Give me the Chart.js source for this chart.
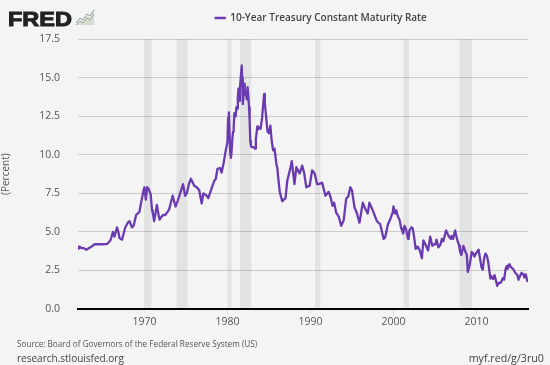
<!DOCTYPE html>
<html>
<head>
<meta charset="utf-8">
<title>10-Year Treasury Constant Maturity Rate</title>
<script src="https://cdn.jsdelivr.net/npm/chart.js@4"></script>
<style>
    html, body { margin: 0; padding: 0; background: #f4f4f4; }
    #wrap { position: relative; width: 550px; height: 365px; overflow: hidden; font-family: "Open Sans", sans-serif; }
    #chart { position: absolute; left: 0; top: 0; }
    .note { position: absolute; white-space: nowrap; line-height: 1; }
    #logo { left: 8px; top: 7px; font: 900 21px "Liberation Sans", sans-serif; color: #222; -webkit-text-stroke: 1px #222; transform: scaleX(1.12); transform-origin: left top; }
    #icon { position: absolute; left: 76px; top: 9px; }
    #source { left: 17px; top: 339.5px; font-size: 8.2px; color: #555; }
    #site { left: 17px; top: 352.5px; font-size: 10px; color: #444; }
    #short { right: 6px; top: 352.5px; font-size: 10.7px; color: #444; }
</style>
</head>
<body>
<div id="wrap">
    <canvas id="chart" width="550" height="365"></canvas>
    <div class="note" id="logo">FRED</div>
    <svg id="icon" width="19" height="17" viewBox="0 0 19 17">
        <path d="M0 16 L4 11 L7 13 L11 7 L14 9 L18 1 L18 16 Z" fill="#d4dcd4"/>
        <path d="M0 14 L4 9 L7 11 L11 5 L14 7 L18 1" fill="none" stroke="#8a9c94" stroke-width="1"/>
        <path d="M0 16 L4 12 L7 14 L11 9 L14 11 L18 5" fill="none" stroke="#9db08c" stroke-width="1"/>
    </svg>
    <div class="note" id="source">Source: Board of Governors of the Federal Reserve System (US)</div>
    <div class="note" id="site">research.stlouisfed.org</div>
    <div class="note" id="short">myf.red/g/3ru0</div>
</div>
<script>
const seriesName = "10-Year Treasury Constant Maturity Rate";
const yAxisTitle = "(Percent)";
const yTicks = [0, 2.5, 5, 7.5, 10, 12.5, 15, 17.5];
const xTicks = [1970, 1980, 1990, 2000, 2010];
const recessionStarts = [1969.95, 1973.87, 1980.0, 1981.5, 1990.55, 2001.2, 2007.95];
const recessionEnds = [1970.87, 1975.2, 1980.5, 1982.87, 1991.2, 2001.87, 2009.45];

const years = [
    1962.0, 1962.1, 1962.2, 1962.4, 1962.7, 1963.0, 1963.5, 1964.0, 1964.5, 1965.0, 1965.5, 1965.9,
    1966.0, 1966.2, 1966.4, 1966.7, 1966.9, 1967.0, 1967.3, 1967.7, 1968.0, 1968.2, 1968.5, 1968.7, 1969.0, 1969.4, 1969.6, 1969.9,
    1970.0, 1970.17, 1970.33, 1970.5, 1970.75, 1970.92, 1971.0, 1971.17, 1971.5, 1971.75, 1971.83,
    1972.0, 1972.25, 1972.5, 1972.92, 1973.0, 1973.4, 1973.75, 1974.0, 1974.3, 1974.65, 1974.9,
    1975.1, 1975.35, 1975.6, 1976.0, 1976.3, 1976.6, 1976.9, 1977.1, 1977.5, 1977.7,
    1978.07, 1978.4, 1978.6, 1978.8, 1979.1, 1979.3, 1979.55, 1979.8,
    1980.0, 1980.08, 1980.17, 1980.25, 1980.33, 1980.42, 1980.5, 1980.6, 1980.67, 1980.75, 1980.83, 1980.92,
    1981.0, 1981.08, 1981.17, 1981.25, 1981.33, 1981.42, 1981.5, 1981.6, 1981.72, 1981.78, 1981.85, 1981.92,
    1982.0, 1982.08, 1982.17, 1982.25, 1982.33, 1982.42, 1982.5, 1982.6, 1982.67, 1982.75, 1982.83, 1982.92,
    1983.0, 1983.17, 1983.33, 1983.42, 1983.6, 1983.67, 1983.92, 1984.0, 1984.17, 1984.33, 1984.42, 1984.5, 1984.67, 1984.83, 1984.92,
    1985.0, 1985.17, 1985.33, 1985.5, 1985.67, 1985.92, 1986.0, 1986.1, 1986.3, 1986.6, 1987.0, 1987.2,
    1987.6, 1987.75, 1988.07, 1988.3, 1988.7, 1989.0, 1989.25, 1989.5, 1989.9, 1990.2, 1990.5, 1990.8,
    1991.0, 1991.4, 1991.8, 1992.2, 1992.45, 1992.65, 1992.85, 1993.1, 1993.4, 1993.7, 1994.0, 1994.3, 1994.55, 1994.8,
    1995.0, 1995.3, 1995.6, 1995.9, 1996.3, 1996.6, 1996.9, 1997.1, 1997.5, 1998.0, 1998.4, 1998.7, 1998.8, 1999.0,
    1999.33, 1999.6, 1999.92, 2000.0, 2000.17, 2000.33, 2000.5, 2000.75, 2000.92,
    2001.0, 2001.17, 2001.33, 2001.5, 2001.75, 2001.83, 2001.92, 2002.17, 2002.33, 2002.5, 2002.67, 2002.92,
    2003.17, 2003.42, 2003.6, 2003.75, 2004.17, 2004.42, 2004.67, 2004.92, 2005.08, 2005.17, 2005.42, 2005.67, 2005.83,
    2006.0, 2006.33, 2006.42, 2006.67, 2006.92, 2007.0, 2007.17, 2007.42, 2007.67, 2007.92,
    2008.0, 2008.17, 2008.42, 2008.67, 2008.83, 2008.95, 2009.0, 2009.17, 2009.42, 2009.6, 2009.75, 2009.92,
    2010.25, 2010.6, 2010.75, 2010.92, 2011.08, 2011.25, 2011.42, 2011.67, 2011.75, 2011.92,
    2012.0, 2012.17, 2012.5, 2012.67, 2012.92, 2013.17, 2013.33, 2013.5, 2013.67, 2013.75, 2013.92,
    2014.0, 2014.17, 2014.42, 2014.6, 2014.75, 2014.92, 2015.05, 2015.17, 2015.42, 2015.67, 2015.75, 2015.83, 2015.92,
    2016.0, 2016.15
];
const rates = [
    4.05, 3.92, 4.05, 3.95, 3.95, 3.85, 4.0, 4.2, 4.2, 4.2, 4.22, 4.45,
    4.6, 5.0, 4.7, 5.3, 4.9, 4.6, 4.5, 5.3, 5.6, 5.7, 5.3, 5.4, 6.1, 6.3, 6.9, 7.7,
    7.9, 7.1, 7.9, 7.8, 7.45, 6.4, 6.25, 5.7, 6.75, 5.95, 5.8,
    5.95, 6.1, 6.1, 6.4, 6.5, 7.35, 6.65, 7.0, 7.5, 8.1, 7.35,
    7.5, 8.1, 8.45, 8.0, 7.9, 7.7, 6.85, 7.5, 7.35, 7.2,
    7.8, 8.3, 8.45, 9.1, 9.15, 8.85, 9.5, 10.3,
    10.8, 12.4, 12.75, 11.5, 10.2, 9.8, 10.25, 11.1, 11.5, 11.75, 12.7, 12.5,
    12.6, 13.1, 13.0, 13.7, 14.3, 13.5, 14.3, 15.0, 15.8, 15.0, 13.3, 13.7,
    14.6, 14.3, 13.9, 13.9, 13.6, 14.4, 13.95, 13.1, 12.3, 10.9, 10.6, 10.5,
    10.5, 10.5, 10.4, 11.0, 11.85, 11.65, 11.8, 11.7, 12.4, 13.4, 13.95, 13.4, 12.4, 11.5, 11.5,
    11.4, 11.9, 10.9, 10.3, 10.4, 9.3, 9.2, 8.6, 7.6, 7.0, 7.2, 8.3,
    9.2, 9.6, 8.1, 9.2, 8.8, 9.3, 8.8, 7.9, 8.0, 9.0, 8.8, 8.1,
    8.1, 8.2, 7.35, 7.6, 7.2, 6.7, 6.9, 6.25, 6.0, 5.4, 5.75, 7.15, 7.3, 7.9,
    7.7, 6.6, 6.2, 5.6, 6.9, 6.5, 6.2, 6.9, 6.4, 5.7, 5.5, 4.8, 4.55, 4.65,
    5.5, 5.8, 6.3, 6.66, 6.2, 6.4, 6.05, 5.75, 5.25,
    5.15, 4.9, 5.4, 5.2, 4.55, 4.6, 5.1, 5.3, 5.2, 4.6, 3.9, 4.05,
    3.8, 3.3, 4.45, 4.3, 3.8, 4.7, 4.1, 4.2, 4.2, 4.5, 4.0, 4.2, 4.55,
    4.4, 5.1, 5.1, 4.7, 4.55, 4.75, 4.55, 5.1, 4.5, 4.1,
    3.75, 3.5, 4.1, 3.7, 3.5, 2.4, 2.5, 2.85, 3.7, 3.6, 3.4, 3.6,
    3.85, 2.7, 2.55, 3.3, 3.6, 3.45, 3.0, 1.98, 2.15, 2.0,
    1.95, 2.2, 1.5, 1.7, 1.7, 2.0, 1.9, 2.6, 2.8, 2.6, 2.9,
    2.85, 2.7, 2.6, 2.4, 2.3, 2.2, 1.9, 2.05, 2.35, 2.2, 2.05, 2.25, 2.25,
    2.1, 1.75
];

const lineColor = "#6a3bb0";

const recessionBands = {
    id: "recession_bands",
    beforeDatasetsDraw: (chart) => {
        const { ctx, chartArea, scales } = chart;
        ctx.save();
        ctx.fillStyle = "rgba(0, 0, 0, 0.065)";
        recessionStarts.forEach((start, i) => {
            const left = scales.x.getPixelForValue(start);
            const right = scales.x.getPixelForValue(recessionEnds[i]);
            ctx.fillRect(left, chartArea.top, right - left, chartArea.bottom - chartArea.top);
        });
        ctx.restore();
    }
};

// legend sits right of the canvas centre on the FRED graphs, with a gap under it
const legendPlacement = {
    id: "legend_placement",
    beforeLayout: (chart) => {
        const legend = chart.legend;
        if (legend.patched) return;
        const fit = legend.fit;
        legend.fit = function () {
            fit.call(this);
            this.height += 6.3;
        };
        legend.patched = true;
    },
    afterLayout: (chart) => {
        chart.legend.left += 57;
        chart.legend.right += 57;
    }
};

const chart = new Chart(document.getElementById("chart"), {
    type: "line",
    plugins: [recessionBands, legendPlacement],
    data: {
        datasets: [{
            label: seriesName,
            data: years.map((year, i) => ({ x: year, y: rates[i] })),
            borderColor: lineColor,
            backgroundColor: lineColor,
            borderWidth: 2.3,
            borderJoinStyle: "round",
            pointRadius: 0,
            tension: 0
        }]
    },
    options: {
        responsive: false,
        animation: false,
        layout: { padding: { top: 0.2, right: 22, bottom: 0, left: 0 } },
        plugins: {
            tooltip: { enabled: false },
            legend: {
                position: "top",
                labels: {
                    usePointStyle: true,
                    pointStyle: "line",
                    boxWidth: 13,
                    boxHeight: 8,
                    padding: 12.8,
                    color: "#444",
                    font: { family: "Open Sans", size: 10, weight: "600" }
                }
            }
        },
        scales: {
            x: {
                type: "linear",
                min: 1962,
                max: 2016.2,
                afterBuildTicks: (axis) => { axis.ticks = xTicks.map(value => ({ value })); },
                afterFit: (axis) => { axis.height = 56; },
                border: { color: "#000", width: 2 },
                grid: { drawOnChartArea: false, color: "#ddd", tickLength: 4 },
                ticks: {
                    color: "#555",
                    font: { family: "Open Sans", size: 10.5 },
                    maxRotation: 0,
                    padding: 3,
                    callback: (value) => String(value)
                }
            },
            y: {
                min: 0,
                max: 17.5,
                afterBuildTicks: (axis) => { axis.ticks = yTicks.map(value => ({ value })); },
                afterFit: (axis) => { axis.width = 78; },
                border: { display: false },
                grid: { color: "#cbcbcb", lineWidth: 1, drawTicks: false },
                title: {
                    display: true,
                    text: yAxisTitle,
                    color: "#555",
                    font: { family: "Open Sans", size: 10 },
                    padding: 0
                },
                ticks: {
                    color: "#555",
                    font: { family: "Open Sans", size: 10.5 },
                    padding: 18,
                    callback: (value) => value.toFixed(1)
                }
            }
        }
    }
});
</script>
</body>
</html>
